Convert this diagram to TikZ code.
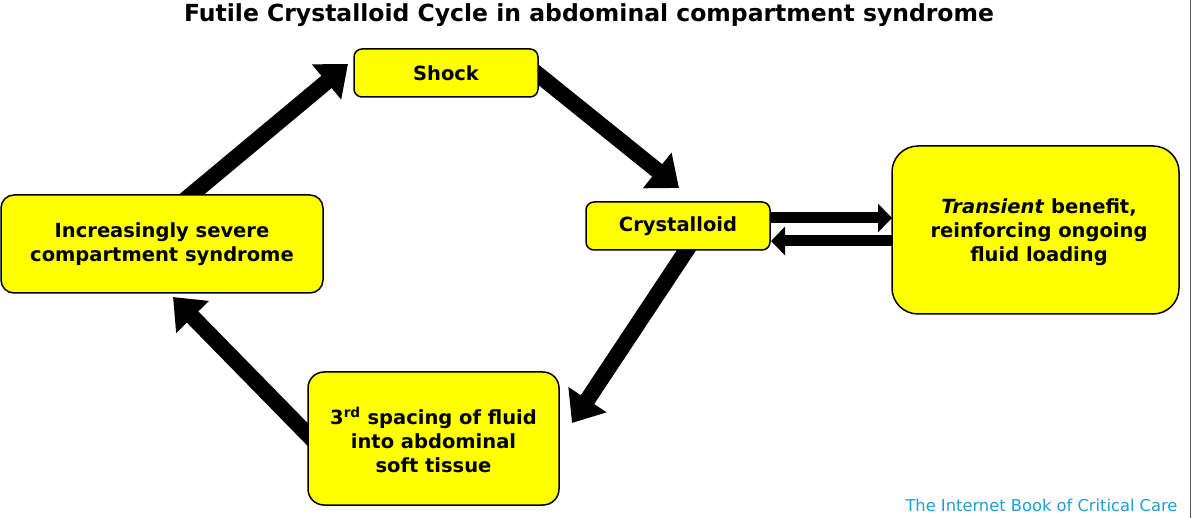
\documentclass[tikz,border=0pt]{standalone}
\usepackage{fontspec}
\setmainfont{DejaVu Sans}
\usetikzlibrary{arrows.meta}
\definecolor{boxyellow}{RGB}{255,255,0}
\definecolor{footblue}{RGB}{30,160,215}
\tikzset{
  box/.style={draw=black, line width=1.5pt, fill=boxyellow, align=center,
    font=\fontsize{19.5}{24}\selectfont\bfseries, inner sep=0pt},
  bigarrow/.style={line width=16pt, -{Triangle[width=44pt,length=28pt]}},
  smallarrow/.style={line width=11pt, -{Triangle[width=28pt,length=14pt]}},
}
\begin{document}
\begin{tikzpicture}[x=1pt,y=-1pt]
\useasboundingbox (0,0) rectangle (1192,518);
\fill[white] (0,0) rectangle (1192,518);
\draw[gray!70!black, line width=1pt] (1190.5,0) -- (1190.5,518);
% arrow coordinates
\coordinate (a1s) at (185,200);
\coordinate (a1e) at (348,64);
\coordinate (a2s) at (530,68);
\coordinate (a2e) at (679,188);
\coordinate (a3s) at (690,245);
\coordinate (a3e) at (572,423);
\coordinate (a4s) at (315,442);
\coordinate (a4e) at (173,297);
\coordinate (a5s) at (765,218);
\coordinate (a5e) at (892,218);
\coordinate (a6s) at (897,241);
\coordinate (a6e) at (771,241);
\draw[bigarrow] (a1s) -- (a1e);
\draw[bigarrow] (a2s) -- (a2e);
\draw[bigarrow] (a3s) -- (a3e);
\draw[bigarrow] (a4s) -- (a4e);
\draw[smallarrow] (a5s) -- (a5e);
\draw[smallarrow] (a6s) -- (a6e);
% boxes
\node[box, rounded corners=8pt, minimum width=184pt, minimum height=48pt] (shock) at (446,73) {Shock};
\node[box, rounded corners=8pt, minimum width=184pt, minimum height=48pt] (cryst) at (678,226) {Crystalloid};
\node[box, rounded corners=26pt, minimum width=287pt, minimum height=168pt] (trans) at (1035.5,230) {};
\node[align=center, font=\fontsize{19.5}{24}\selectfont\bfseries, inner sep=0pt] (transtext) at (1039,232) {\textit{Transient} benefit,\\reinforcing ongoing\\fluid loading};
\node[box, rounded corners=16pt, minimum width=251pt, minimum height=133pt] (third) at (433.5,438.5) {};
\node[align=center, font=\fontsize{19.5}{24}\selectfont\bfseries, inner sep=0pt] (thirdtext) at (433.5,440) {3\textsuperscript{rd} spacing of fluid\\into abdominal\\soft tissue};
\node[box, rounded corners=13pt, minimum width=322pt, minimum height=98pt] (incr) at (162,244) {Increasingly severe\\compartment syndrome};
% title and footer
\node[font=\fontsize{23.5}{28}\selectfont\bfseries] (title) at (589,15) {Futile Crystalloid Cycle in abdominal compartment syndrome};
\node[font=\fontsize{16.3}{19}\selectfont, text=footblue, anchor=east] (foot) at (1181,505) {The Internet Book of Critical Care};
\end{tikzpicture}
\end{document}
